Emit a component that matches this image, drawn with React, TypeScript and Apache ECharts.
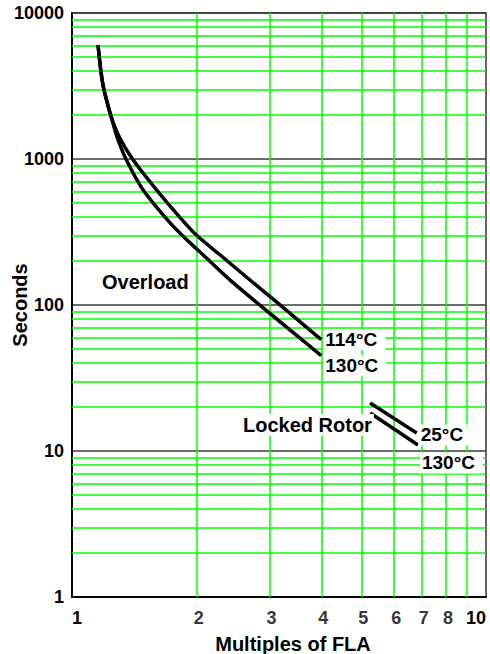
import React, { useEffect, useRef } from 'react';
import * as echarts from 'echarts';

// Overload curves (Multiples of FLA, Seconds)
const overload114: [number, number][] = [
  [1.156, 6000], [1.175, 3950], [1.195, 2970], [1.24, 2000], [1.3, 1420],
  [1.4, 1000], [1.6, 615], [1.82, 400], [2.0, 300], [2.28, 220],
  [2.62, 158], [3.0, 115], [4.0, 58],
];
const overload130: [number, number][] = [
  [1.156, 6000], [1.175, 3950], [1.195, 2970], [1.24, 2000], [1.284, 1420],
  [1.35, 1000], [1.484, 615], [1.677, 400], [1.844, 300], [2.04, 230],
  [2.41, 148], [3.0, 88], [4.0, 45],
];
// Locked rotor lines
const lockedRotor25: [number, number][] = [[5.25, 21.3], [6.8, 13.3]];
const lockedRotor130: [number, number][] = [[5.25, 18.2], [6.85, 11.0]];

// Grid and tick values
const xMinorGrid = [2, 3, 4, 5, 6, 7, 8, 9];
const yMinorGrid = [
  2, 3, 4, 5, 6, 7, 8, 9,
  20, 30, 40, 50, 60, 70, 80, 90,
  200, 300, 400, 500, 600, 700, 800, 900,
  2000, 3000, 4000, 5000, 6000, 7000, 8000, 9000,
];
const xTickLabels = [2, 3, 4, 5, 6, 7, 8];

const FONT = '"Liberation Sans", Arial, sans-serif';

export default function App() {
  const ref = useRef<HTMLDivElement>(null);
  useEffect(() => {
    const chart = echarts.init(ref.current!, null, { renderer: 'svg' });
    const textBase = { color: '#000', fontWeight: 'bold' as const, fontFamily: FONT };
    const lineSeries = (name: string, data: [number, number][], label: string, offsetY: number) => ({
      type: 'line',
      name,
      data,
      z: 5,
      showSymbol: false,
      symbol: 'none',
      smooth: 0.25,
      silent: true,
      lineStyle: { color: '#000', width: 3.5 },
      endLabel: {
        show: true,
        formatter: label,
        ...textBase,
        fontSize: 19,
        backgroundColor: '#fff',
        padding: [1, 8, 1, 2],
        distance: 2,
        offset: [0, offsetY],
      },
    });
    chart.setOption({
      animation: false,
      backgroundColor: '#fff',
      grid: {
        left: 72, right: 4, top: 13, bottom: 57,
        outerBoundsMode: 'none',
        containLabel: false,
        show: true, borderColor: '#333', borderWidth: 1.5,
      },
      xAxis: {
        type: 'log', logBase: 10, min: 1, max: 10,
        name: 'Multiples of FLA',
        nameLocation: 'middle',
        nameGap: 37,
        nameMoveOverlap: false,
        nameTextStyle: { ...textBase, fontSize: 20, padding: [0, 0, 0, 28] },
        axisLine: { show: true, lineStyle: { color: '#000', width: 2 } },
        axisTick: { show: false },
        splitLine: { show: false },
        axisLabel: {
          ...textBase, fontSize: 18, margin: 12,
          alignMinLabel: 'left', alignMaxLabel: 'right',
          formatter: (v: number) => String(v),
        },
      },
      yAxis: {
        type: 'log', logBase: 10, min: 1, max: 10000,
        name: 'Seconds',
        nameLocation: 'middle',
        nameGap: 42,
        nameMoveOverlap: false,
        nameRotate: 90,
        nameTextStyle: { ...textBase, fontSize: 20 },
        axisLine: { show: true, lineStyle: { color: '#000', width: 2 } },
        axisTick: { show: false },
        splitLine: { show: true, lineStyle: { color: '#3a3a3a', width: 1.5 } },
        axisLabel: {
          ...textBase, fontSize: 18, margin: 8, padding: [6, 0, 0, 0],
          formatter: (v: number) => String(v),
        },
      },
      series: [
        {
          type: 'scatter',
          name: 'ticks',
          z: 1,
          data: xTickLabels.map((v) => [v, 1]),
          symbolSize: 0,
          silent: true,
          label: {
            show: true,
            position: 'bottom',
            distance: 12,
            offset: [2, 0],
            formatter: (p: any) => String(p.value[0]),
            ...textBase,
            fontSize: 18,
          },
          markLine: {
            silent: true,
            z: 1,
            symbol: ['none', 'none'],
            label: { show: false },
            emphasis: { disabled: true },
            lineStyle: { color: '#00ff00', width: 1.5, type: 'solid' },
            data: [
              ...xMinorGrid.map((v) => ({ xAxis: v })),
              ...yMinorGrid.map((v) => ({ yAxis: v })),
            ],
          },
        },
        lineSeries('114°C', overload114, '114°C', 0),
        lineSeries('130°C', overload130, '130°C', 10),
        lineSeries('25°C', lockedRotor25, '25°C', 2),
        lineSeries('130°C LR', lockedRotor130, '130°C', 18),
      ],
      graphic: [
        {
          type: 'text', left: 102, top: 272, z: 100,
          style: { text: 'Overload', fill: '#000', font: `bold 20px ${FONT}` },
        },
        {
          type: 'text', left: 241, top: 414, z: 100,
          style: {
            text: 'Locked Rotor', fill: '#000', font: `bold 20px ${FONT}`,
            backgroundColor: '#fff', padding: [1, 2, 1, 2],
          },
        },
      ],
    });
    return () => chart.dispose();
  }, []);
  return (
    <div
      ref={ref}
      style={{ position: 'fixed', left: 0, top: 0, width: 490, height: 654, background: '#fff' }}
    />
  );
}
